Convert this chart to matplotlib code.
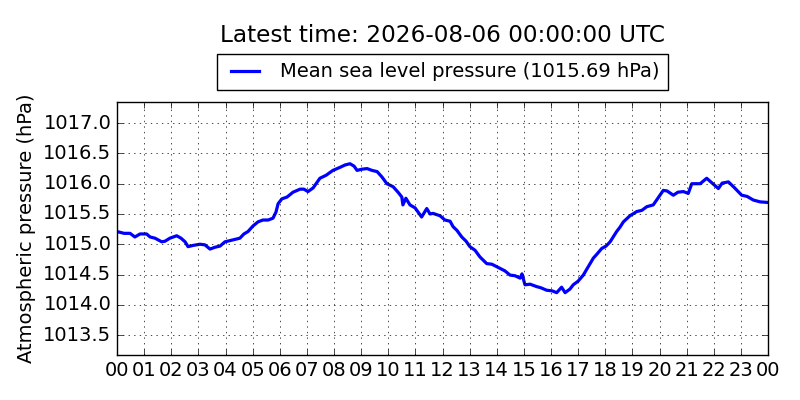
#!/usr/bin/env python3
"""Mean sea level pressure over the last 24 h (classic matplotlib look)."""
import matplotlib
matplotlib.use("Agg")
import matplotlib.pyplot as plt

plt.style.use("classic")

# --- Data (hours after 00 UTC, hPa) ----------------------------------------
HOURS = [
    0.00, 0.26, 0.48, 0.66, 0.85, 1.09, 1.22, 1.40, 1.65, 1.77,
    1.95, 2.20, 2.36, 2.51, 2.62, 2.80, 3.06, 3.24, 3.43, 3.61,
    3.80, 3.98, 4.17, 4.35, 4.53, 4.68, 4.83, 5.01, 5.20, 5.38,
    5.57, 5.75, 5.86, 5.94, 6.08, 6.27, 6.49, 6.75, 6.89, 7.04,
    7.23, 7.48, 7.71, 7.96, 8.22, 8.41, 8.59, 8.74, 8.85, 9.03,
    9.22, 9.40, 9.59, 9.77, 9.95, 10.18, 10.36, 10.50, 10.54, 10.65,
    10.80, 10.99, 11.23, 11.42, 11.54, 11.65, 11.91, 12.09, 12.28, 12.39,
    12.53, 12.71, 12.87, 13.01, 13.20, 13.38, 13.63, 13.82, 14.12, 14.30,
    14.49, 14.67, 14.86, 14.93, 15.04, 15.23, 15.47, 15.63, 15.84, 16.04,
    16.21, 16.39, 16.52, 16.70, 16.82, 17.00, 17.19, 17.36, 17.56, 17.70,
    17.87, 18.03, 18.18, 18.42, 18.54, 18.67, 18.91, 19.16, 19.35, 19.53,
    19.77, 19.94, 20.14, 20.28, 20.51, 20.68, 20.88, 21.06, 21.19, 21.50,
    21.74, 21.94, 22.17, 22.31, 22.54, 22.75, 23.03, 23.23, 23.46, 23.71,
    24.00,
]
PRESSURE = [
    1015.21, 1015.18, 1015.18, 1015.12, 1015.17, 1015.17, 1015.12, 1015.10, 1015.04, 1015.05,
    1015.10, 1015.14, 1015.10, 1015.04, 1014.96, 1014.98, 1015.00, 1014.99, 1014.92, 1014.95,
    1014.97, 1015.04, 1015.06, 1015.08, 1015.10, 1015.17, 1015.21, 1015.30, 1015.37, 1015.40,
    1015.40, 1015.43, 1015.53, 1015.67, 1015.75, 1015.78, 1015.86, 1015.91, 1015.91, 1015.87,
    1015.93, 1016.09, 1016.14, 1016.22, 1016.27, 1016.31, 1016.33, 1016.29, 1016.22, 1016.24,
    1016.25, 1016.22, 1016.20, 1016.11, 1016.00, 1015.95, 1015.86, 1015.78, 1015.65, 1015.76,
    1015.65, 1015.60, 1015.45, 1015.59, 1015.50, 1015.51, 1015.47, 1015.40, 1015.38, 1015.29,
    1015.23, 1015.12, 1015.05, 1014.96, 1014.90, 1014.79, 1014.68, 1014.67, 1014.60, 1014.56,
    1014.49, 1014.48, 1014.44, 1014.51, 1014.33, 1014.34, 1014.30, 1014.28, 1014.24, 1014.23,
    1014.20, 1014.29, 1014.20, 1014.26, 1014.33, 1014.39, 1014.49, 1014.62, 1014.77, 1014.84,
    1014.93, 1014.97, 1015.04, 1015.21, 1015.28, 1015.37, 1015.47, 1015.54, 1015.56, 1015.62,
    1015.65, 1015.76, 1015.89, 1015.88, 1015.81, 1015.86, 1015.87, 1015.84, 1016.00, 1016.00,
    1016.09, 1016.01, 1015.92, 1016.01, 1016.03, 1015.94, 1015.81, 1015.79, 1015.73, 1015.70,
    1015.69,
]
XTICKS = list(range(0, 25))
XTICK_LABELS = [f"{h % 24:02d}" for h in XTICKS]
YTICKS = [1013.5, 1014.0, 1014.5, 1015.0, 1015.5, 1016.0, 1016.5, 1017.0]

TITLE = "Latest time: 2026-08-06 00:00:00 UTC"
LABEL = f"Mean sea level pressure ({PRESSURE[-1]:.2f} hPa)"

fig = plt.figure(figsize=(8, 4), dpi=100)
fig.patch.set_facecolor("white")
ax = fig.add_axes([0.14625, 0.1125, 0.81375, 0.6325])

ax.plot(HOURS, PRESSURE, color="b", lw=2.3, label=LABEL)
ax.set_xlim(0, 24)
ax.set_ylim(1013.17, 1017.35)
ax.set_xticks(XTICKS, XTICK_LABELS, fontsize=14)
ax.set_yticks(YTICKS, [f"{v:.1f}" for v in YTICKS], fontsize=14)
ax.set_ylabel("Atmospheric pressure (hPa)", fontsize=14)
ax.grid(True)

ax.legend(loc="lower center", bbox_to_anchor=(0.5, 1.047), fontsize=14,
          borderaxespad=0, handlelength=2.0, borderpad=0.45)
fig.text(0.553, 1 - 35 / 400, TITLE, ha="center", va="center", fontsize=16.7)

fig.savefig("out.png", dpi=100)
